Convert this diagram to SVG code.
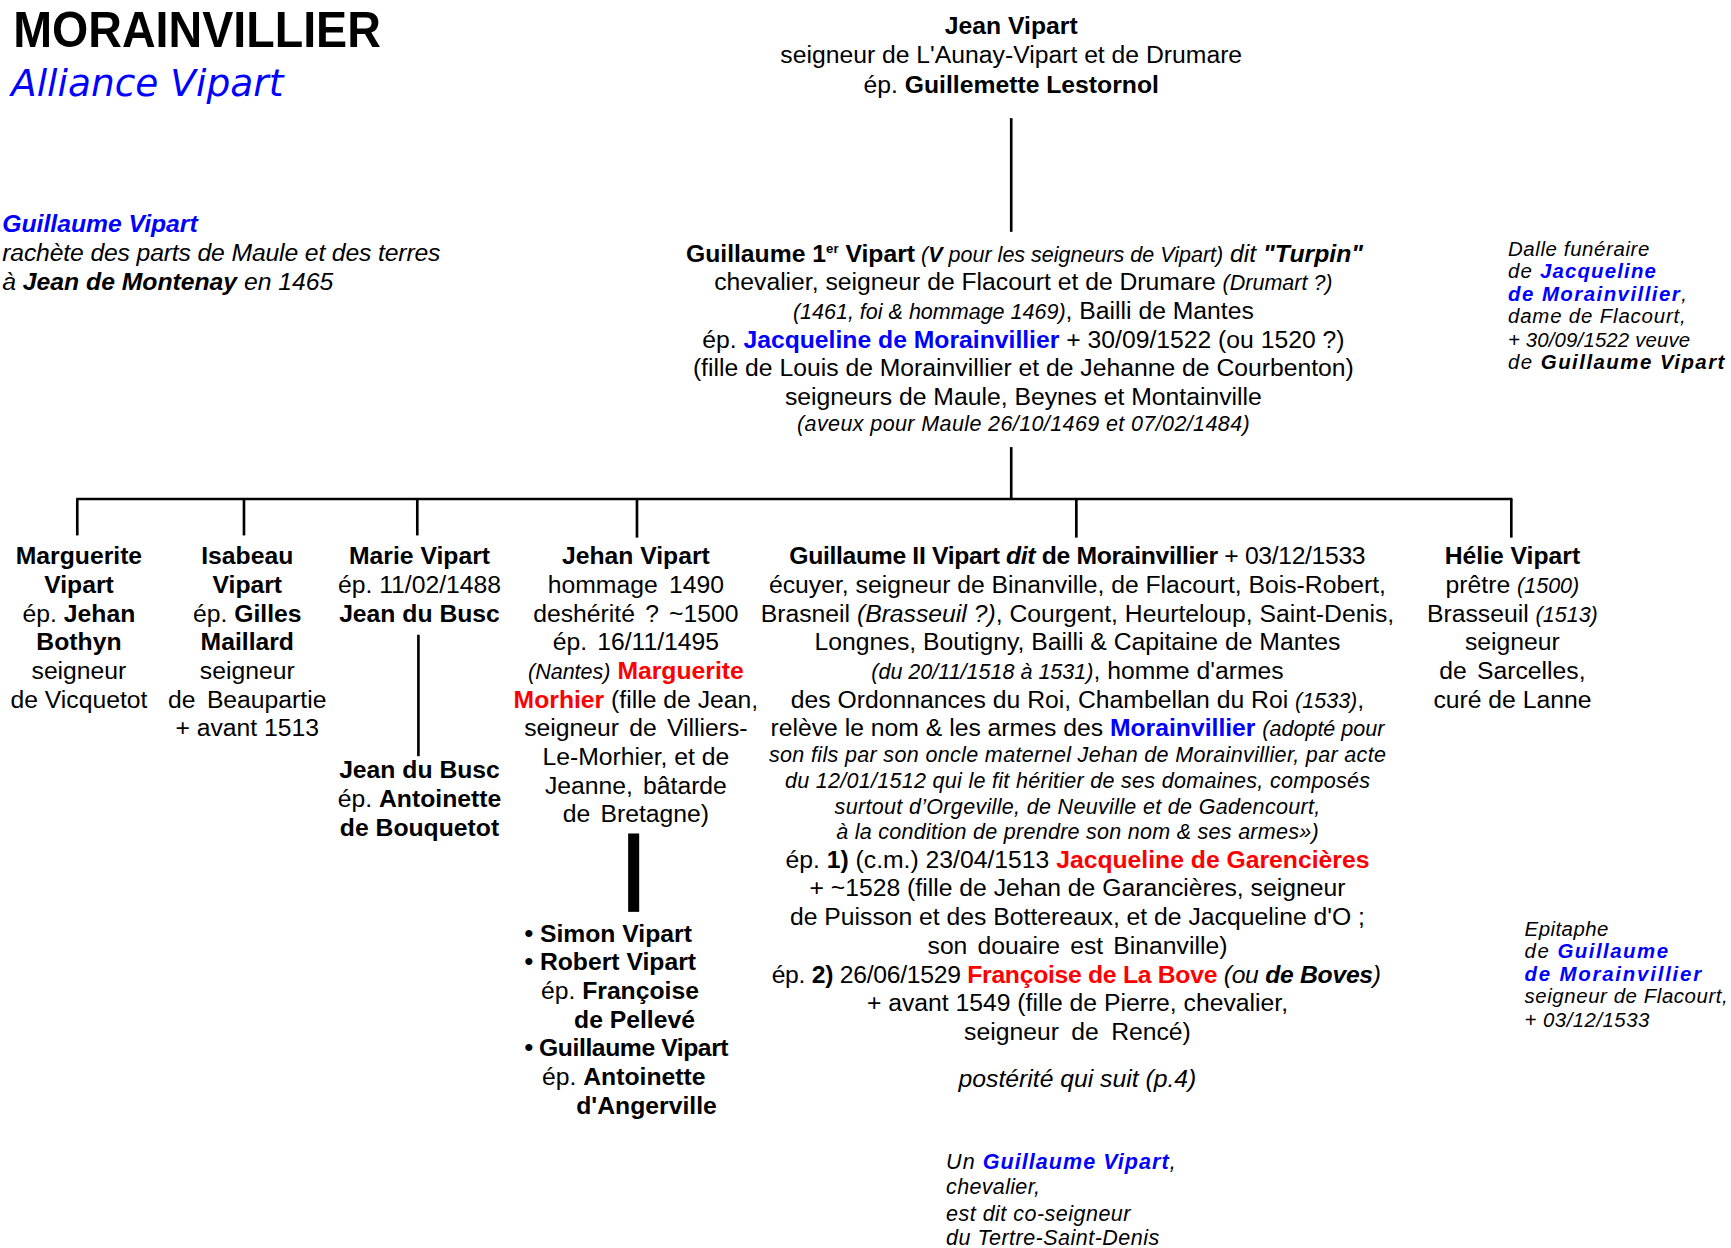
<svg xmlns="http://www.w3.org/2000/svg" width="1731" height="1248" viewBox="0 0 1731 1248">
<style>
text{font-family:"Liberation Sans",Arial,sans-serif;font-size:22.4px;fill:#000}
.c{text-anchor:middle}
.b{font-weight:bold}
.i{font-style:italic}
.s{font-size:19.5px}
.blue{fill:#0000ff}
.red{fill:#ff0000}
.note{font-size:18.5px;font-style:italic}
.line{stroke:#000;stroke-width:2.4;fill:none}
</style>
<rect x="0" y="0" width="1731" height="1248" fill="#fff"/>
<g transform="scale(1.10395)">
<g id="title">
<text x="12" y="43" class="b" style="font-size:45px" textLength="333" lengthAdjust="spacingAndGlyphs">MORAINVILLIER</text>
<text x="10" y="87" class="blue" style="font-family:'DejaVu Sans',sans-serif;font-style:italic;font-size:34px">Alliance Vipart</text>
</g>
<g id="connectors">
<line class="line" x1="916" y1="107" x2="916" y2="210"/>
<line class="line" x1="916" y1="405" x2="916" y2="452"/>
<line class="line" x1="69" y1="452" x2="1370" y2="452"/>
<line class="line" x1="70" y1="452" x2="70" y2="485"/>
<line class="line" x1="221" y1="452" x2="221" y2="485"/>
<line class="line" x1="378" y1="452" x2="378" y2="485"/>
<line class="line" x1="577" y1="452" x2="577" y2="487"/>
<line class="line" x1="975" y1="452" x2="975" y2="487"/>
<line class="line" x1="1369" y1="452" x2="1369" y2="487"/>
<line class="line" x1="379" y1="575" x2="379" y2="685"/>
<rect x="569" y="755" width="10" height="71" fill="#000"/>
</g>
<g id="jean">
<text x="916" y="31" class="c b">Jean Vipart</text>
<text x="916" y="57" class="c">seigneur de L'Aunay-Vipart et de Drumare</text>
<text x="916" y="84" class="c">ép. <tspan class="b">Guillemette Lestornol</tspan></text>
</g>
<g id="note-left">
<text x="2" y="210" class="b i blue">Guillaume Vipart</text>
<text x="2" y="236" class="i" textLength="397" lengthAdjust="spacing">rachète des parts de Maule et des terres</text>
<text x="2" y="263" class="i">à <tspan class="b">Jean de Montenay</tspan> en 1465</text>
</g>
<g id="guillaume1">
<text x="928" y="237" class="c"><tspan class="b">Guillaume 1</tspan><tspan class="b" style="font-size:12px" dy="-8">er</tspan><tspan class="b" dy="8"> Vipart</tspan><tspan class="i s"> (<tspan class="b">V</tspan> pour les seigneurs de Vipart)</tspan><tspan class="i"> dit </tspan><tspan class="b i">"Turpin"</tspan></text>
<text x="927" y="263" class="c">chevalier, seigneur de Flacourt et de Drumare <tspan class="i s">(Drumart ?)</tspan></text>
<text x="927" y="289" class="c"><tspan class="i s">(1461, foi &amp; hommage 1469)</tspan>, Bailli de Mantes</text>
<text x="927" y="315" class="c">ép. <tspan class="b blue">Jacqueline de Morainvillier</tspan> + 30/09/1522 (ou 1520 ?)</text>
<text x="927" y="341" class="c">(fille de Louis de Morainvillier et de Jehanne de Courbenton)</text>
<text x="927" y="367" class="c">seigneurs de Maule, Beynes et Montainville</text>
<text x="927" y="390" class="c i s" textLength="410" lengthAdjust="spacing">(aveux pour Maule 26/10/1469 et 07/02/1484)</text>
</g>
<g id="note-dalle">
<text x="1366" y="232" class="note" textLength="128" lengthAdjust="spacing">Dalle funéraire</text>
<text x="1366" y="252" class="note" textLength="134" lengthAdjust="spacing">de <tspan class="b blue">Jacqueline</tspan></text>
<text x="1366" y="273" class="note" textLength="162" lengthAdjust="spacing"><tspan class="b blue">de Morainvillier</tspan>,</text>
<text x="1366" y="293" class="note" textLength="161" lengthAdjust="spacing">dame de Flacourt,</text>
<text x="1366" y="314" class="note" textLength="165" lengthAdjust="spacing">+ 30/09/1522 veuve</text>
<text x="1366" y="334" class="note" textLength="196" lengthAdjust="spacing">de <tspan class="b">Guillaume Vipart</tspan></text>
</g>
<g id="marguerite">
<text x="71.5" y="511" class="c b">Marguerite</text>
<text x="71.5" y="537" class="c b">Vipart</text>
<text x="71.5" y="563" class="c">ép. <tspan class="b">Jehan</tspan></text>
<text x="71.5" y="589" class="c b">Bothyn</text>
<text x="71.5" y="615" class="c">seigneur</text>
<text x="71.5" y="641" class="c">de Vicquetot</text>
</g>
<g id="isabeau">
<text x="224" y="511" class="c b">Isabeau</text>
<text x="224" y="537" class="c b">Vipart</text>
<text x="224" y="563" class="c">ép. <tspan class="b">Gilles</tspan></text>
<text x="224" y="589" class="c b">Maillard</text>
<text x="224" y="615" class="c">seigneur</text>
<text x="224" y="641" class="c" style="word-spacing:4px">de Beaupartie</text>
<text x="224" y="667" class="c">+ avant 1513</text>
</g>
<g id="marie">
<text x="380" y="511" class="c b">Marie Vipart</text>
<text x="380" y="537" class="c">ép. 11/02/1488</text>
<text x="380" y="563" class="c b">Jean du Busc</text>
</g>
<g id="jean-du-busc">
<text x="380" y="705" class="c b">Jean du Busc</text>
<text x="380" y="731" class="c">ép. <tspan class="b">Antoinette</tspan></text>
<text x="380" y="757" class="c b">de Bouquetot</text>
</g>
<g id="jehan">
<text x="576" y="511" class="c b">Jehan Vipart</text>
<text x="576" y="537" class="c" style="word-spacing:4px">hommage 1490</text>
<text x="576" y="563" class="c" style="word-spacing:3px">deshérité ? ~1500</text>
<text x="576" y="589" class="c" style="word-spacing:3px">ép. 16/11/1495</text>
<text x="576" y="615" class="c"><tspan class="i s">(Nantes)</tspan> <tspan class="b red">Marguerite</tspan></text>
<text x="576" y="641" class="c"><tspan class="b red">Morhier</tspan> (fille de Jean,</text>
<text x="576" y="667" class="c" style="word-spacing:3px">seigneur de Villiers-</text>
<text x="576" y="693" class="c">Le-Morhier, et de</text>
<text x="576" y="719" class="c" style="word-spacing:3px">Jeanne, bâtarde</text>
<text x="576" y="745" class="c" style="word-spacing:3px">de Bretagne)</text>
</g>
<g id="jehan-children">
<text x="475" y="853" class="b">• Simon Vipart</text>
<text x="475" y="879" class="b">• Robert Vipart</text>
<text x="490" y="905">ép. <tspan class="b">Françoise</tspan></text>
<text x="520" y="931" class="b">de Pellevé</text>
<text x="475" y="957" class="b" textLength="185" lengthAdjust="spacing">• Guillaume Vipart</text>
<text x="491" y="983">ép. <tspan class="b">Antoinette</tspan></text>
<text x="522" y="1009" class="b">d'Angerville</text>
</g>
<g id="guillaume2">
<text x="976" y="511" class="c" textLength="522" lengthAdjust="spacing"><tspan class="b">Guillaume II Vipart <tspan class="i">dit</tspan> de Morainvillier</tspan> + 03/12/1533</text>
<text x="976" y="537" class="c">écuyer, seigneur de Binanville, de Flacourt, Bois-Robert,</text>
<text x="976" y="563" class="c">Brasneil <tspan class="i">(Brasseuil ?)</tspan>, Courgent, Heurteloup, Saint-Denis,</text>
<text x="976" y="589" class="c">Longnes, Boutigny, Bailli &amp; Capitaine de Mantes</text>
<text x="976" y="615" class="c"><tspan class="i s">(du 20/11/1518 à 1531)</tspan>, homme d'armes</text>
<text x="976" y="641" class="c">des Ordonnances du Roi, Chambellan du Roi <tspan class="i s">(1533)</tspan>,</text>
<text x="976" y="667" class="c">relève le nom &amp; les armes des <tspan class="b blue">Morainvillier</tspan> <tspan class="i s">(adopté pour</tspan></text>
<text x="976" y="690" class="c i s" textLength="559" lengthAdjust="spacing">son fils par son oncle maternel Jehan de Morainvillier, par acte</text>
<text x="976" y="714" class="c i s" textLength="530" lengthAdjust="spacing">du 12/01/1512 qui le fit héritier de ses domaines, composés</text>
<text x="976" y="737" class="c i s" textLength="440" lengthAdjust="spacing">surtout d’Orgeville, de Neuville et de Gadencourt,</text>
<text x="976" y="760" class="c i s" textLength="437" lengthAdjust="spacing">à la condition de prendre son nom &amp; ses armes»)</text>
<text x="976" y="786" class="c">ép. <tspan class="b">1)</tspan> (c.m.) 23/04/1513 <tspan class="b red">Jacqueline de Garencières</tspan></text>
<text x="976" y="812" class="c">+ ~1528 (fille de Jehan de Garancières, seigneur</text>
<text x="976" y="838" class="c">de Puisson et des Bottereaux, et de Jacqueline d'O ;</text>
<text x="976" y="864" class="c" style="word-spacing:3px">son douaire est Binanville)</text>
<text x="975" y="890" class="c" textLength="552" lengthAdjust="spacing">ép. <tspan class="b">2)</tspan> 26/06/1529 <tspan class="b red">Françoise de La Bove</tspan> <tspan class="i">(ou <tspan class="b">de Boves</tspan>)</tspan></text>
<text x="976" y="916" class="c">+ avant 1549 (fille de Pierre, chevalier,</text>
<text x="976" y="942" class="c" style="word-spacing:5px">seigneur de Rencé)</text>
<text x="976" y="985" class="c i">postérité qui suit (p.4)</text>
</g>
<g id="helie">
<text x="1370" y="511" class="c b">Hélie Vipart</text>
<text x="1370" y="537" class="c">prêtre <tspan class="i s">(1500)</tspan></text>
<text x="1370" y="563" class="c">Brasseuil <tspan class="i s">(1513)</tspan></text>
<text x="1370" y="589" class="c">seigneur</text>
<text x="1370" y="615" class="c" style="word-spacing:3px">de Sarcelles,</text>
<text x="1370" y="641" class="c">curé de Lanne</text>
</g>
<g id="note-epitaphe">
<text x="1381" y="848" class="note" textLength="76" lengthAdjust="spacing">Epitaphe</text>
<text x="1381" y="868" class="note" textLength="130" lengthAdjust="spacing">de <tspan class="b blue">Guillaume</tspan></text>
<text x="1381" y="889" class="note b blue" textLength="160" lengthAdjust="spacing">de Morainvillier</text>
<text x="1381" y="909" class="note" textLength="184" lengthAdjust="spacing">seigneur de Flacourt,</text>
<text x="1381" y="930" class="note" textLength="113" lengthAdjust="spacing">+ 03/12/1533</text>
</g>
<g id="note-tertre">
<text x="857" y="1059" class="note" style="font-size:19.5px" textLength="208" lengthAdjust="spacing">Un <tspan class="b blue">Guillaume Vipart</tspan>,</text>
<text x="857" y="1082" class="note" style="font-size:19.5px" textLength="85" lengthAdjust="spacing">chevalier,</text>
<text x="857" y="1106" class="note" style="font-size:19.5px" textLength="167" lengthAdjust="spacing">est dit co-seigneur</text>
<text x="857" y="1128" class="note" style="font-size:19.5px" textLength="193" lengthAdjust="spacing">du Tertre-Saint-Denis</text>
</g>
</g>
</svg>
